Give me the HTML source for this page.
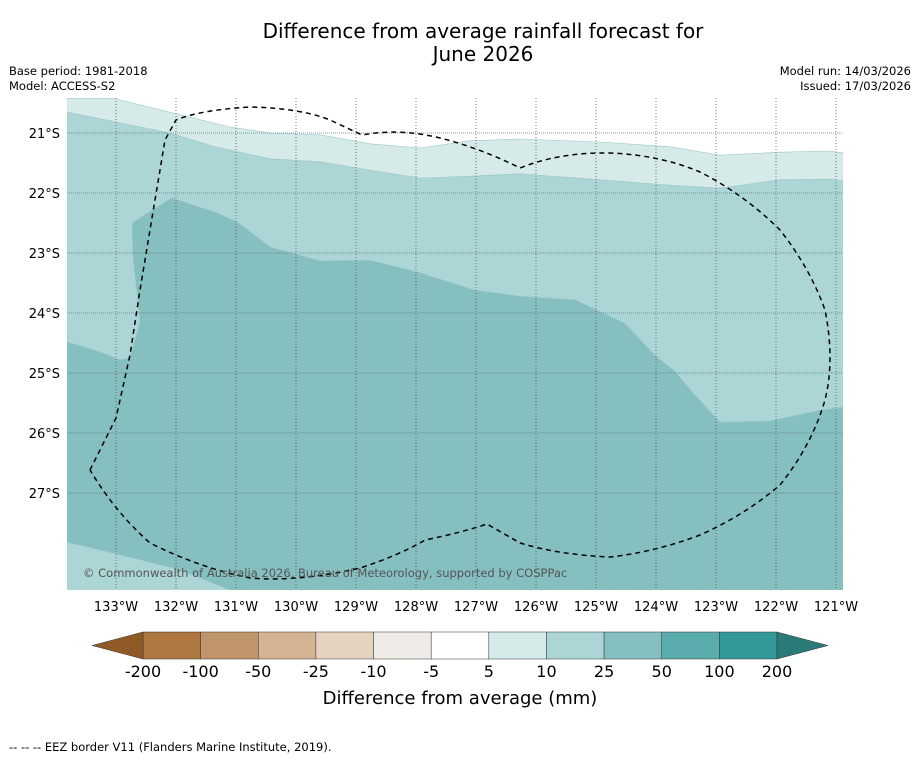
<!DOCTYPE html>
<html><head><meta charset="utf-8"><style>
body{margin:0;background:#fff;font-family:"Liberation Sans","DejaVu Sans",sans-serif;}
svg text{font-family:"DejaVu Sans","Liberation Sans",sans-serif;}
</style></head><body>
<svg id="chart" width="919" height="758" viewBox="0 0 919 758" xmlns="http://www.w3.org/2000/svg">
<text x="483" y="38" font-size="20" text-anchor="middle">Difference from average rainfall forecast for</text>
<text x="483" y="61" font-size="20" text-anchor="middle">June 2026</text>
<text x="9" y="75" font-size="11.5">Base period: 1981-2018</text>
<text x="9" y="90" font-size="11.5">Model: ACCESS-S2</text>
<text x="911" y="75" font-size="11.5" text-anchor="end">Model run: 14/03/2026</text>
<text x="911" y="90" font-size="11.5" text-anchor="end">Issued: 17/03/2026</text>
<defs><clipPath id="mapclip"><rect x="67" y="98" width="776" height="492"/></clipPath></defs>
<g id="map" clip-path="url(#mapclip)">
<rect x="67" y="98" width="776" height="492" fill="#ffffff"/>
</g>
<g id="axes"></g>
<g id="cbar"></g>
<text x="460" y="704" font-size="18" text-anchor="middle">Difference from average (mm)</text>
<text x="9" y="751" font-size="11.5">--  --  -- EEZ border V11 (Flanders Marine Institute, 2019).</text>
</svg>
<script>
const lonTicks=[133,132,131,130,129,128,127,126,125,124,123,122,121];
const latTicks=[21,22,23,24,25,26,27];
const cbLevels=["-200","-100","-50","-25","-10","-5","5","10","25","50","100","200"];
const cbColors=["#ad773f","#c1956b","#d4b393","#e6d2c0","#efebe6","#ffffff","#d5eae9","#acd5d5","#85bfbf","#5aabab","#339898"];
// contour bands: [lonW, latS]
const bandLightest=[[133.82,20.42],[133.05,20.42],[131.1,20.9],[130.43,21.0],[129.6,21.03],[128.77,21.18],[127.93,21.25],[127.1,21.13],[126.27,21.1],[124.93,21.15],[123.77,21.23],[122.93,21.37],[121.93,21.32],[121.1,21.3],[120.88,21.33],[120.88,28.7],[133.82,28.7]];
const bandLight=[[133.82,20.65],[132.1,21.0],[131.35,21.23],[130.43,21.43],[129.6,21.48],[128.77,21.62],[127.93,21.75],[127.1,21.72],[126.27,21.68],[124.93,21.78],[123.77,21.87],[122.93,21.92],[121.93,21.78],[121.1,21.77],[120.88,21.8],[120.88,28.7],[133.82,28.7]];
const bandMedium=[[132.73,22.5],[132.07,22.08],[131.35,22.32],[130.98,22.48],[130.43,22.9],[129.6,23.13],[128.77,23.12],[127.93,23.33],[127.02,23.62],[126.27,23.72],[125.35,23.78],[124.52,24.17],[124.02,24.7],[123.68,24.98],[123.35,25.37],[122.93,25.82],[122.1,25.8],[121.27,25.62],[120.88,25.57],[120.88,28.7],[131.1,28.62],[131.93,28.28],[132.93,28.03],[133.82,27.82],[133.82,24.48],[133.32,24.63],[132.93,24.78],[132.77,24.75],[132.6,24.15],[132.72,23.03]];
const X=lon=>116+(133-lon)*60;
const Y=lat=>133+(lat-21)*60;
const NS="http://www.w3.org/2000/svg";
const map=document.getElementById('map');
function poly(pts,fill){const p=document.createElementNS(NS,'polygon');
p.setAttribute('points',pts.map(d=>X(d[0])+','+Y(d[1])).join(' '));
p.setAttribute('fill',fill);p.setAttribute('stroke','#9cc7c6');p.setAttribute('stroke-width','0.6');

map.appendChild(p);}
poly(bandLightest,"#d5eae9");

poly(bandLight,"#acd5d5");

poly(bandMedium,"#85bfbf");

lonTicks.forEach(l=>{const ln=document.createElementNS(NS,'line');
ln.setAttribute('x1',X(l));ln.setAttribute('x2',X(l));ln.setAttribute('y1',98);ln.setAttribute('y2',590);
ln.setAttribute('stroke','#555');ln.setAttribute('stroke-width','0.8');ln.setAttribute('stroke-dasharray','1,2');


map.appendChild(ln);});
latTicks.forEach(l=>{const ln=document.createElementNS(NS,'line');
ln.setAttribute('x1',67);ln.setAttribute('x2',843);ln.setAttribute('y1',Y(l));ln.setAttribute('y2',Y(l));
ln.setAttribute('stroke','#5a7f7f');ln.setAttribute('stroke-width','0.8');ln.setAttribute('stroke-dasharray','1,1');


map.appendChild(ln);});
const eez=document.createElementNS(NS,'path');
eez.setAttribute('d','M90,470 L116,418 L130,355 L140,290 L150,230 L165,140 L176,120 Q200,110 250,107 Q300,108 330,120 L362,135 Q400,128 440,138 Q480,148 520,168 Q560,152 610,153 Q660,155 700,172 Q745,195 780,230 Q810,268 825,310 Q835,360 825,400 Q812,445 780,485 Q745,515 700,535 Q655,552 610,557 Q560,555 520,543 L487,524 Q460,533 425,540 Q400,555 360,568 Q300,582 250,578 Q200,568 150,543 Q115,512 90,470');
eez.setAttribute('fill','none');eez.setAttribute('stroke','#000');eez.setAttribute('stroke-width','1.5');eez.setAttribute('stroke-dasharray','5,4');


map.appendChild(eez);
const cp=document.createElementNS(NS,'text');
cp.setAttribute('x',83);cp.setAttribute('y',577);cp.setAttribute('font-size','11.5');cp.setAttribute('fill','#555');
cp.textContent='© Commonwealth of Australia 2026, Bureau of Meteorology, supported by COSPPac';


map.appendChild(cp);
const axes=document.getElementById('axes');
lonTicks.forEach(l=>{const t=document.createElementNS(NS,'text');
t.setAttribute('x',X(l));t.setAttribute('y',611);t.setAttribute('font-size','13');t.setAttribute('text-anchor','middle');
t.textContent=l+'°W';


axes.appendChild(t);});
latTicks.forEach(l=>{const t=document.createElementNS(NS,'text');
t.setAttribute('x',60);t.setAttribute('y',Y(l)+5);t.setAttribute('font-size','13');t.setAttribute('text-anchor','end');
t.textContent=l+'°S';


axes.appendChild(t);});
const cb=document.getElementById('cbar');
const cx0=143,cx1=777,cy=632,ch=27,sw=(cx1-cx0)/cbColors.length;
cbColors.forEach((c,i)=>{const r=document.createElementNS(NS,'rect');
r.setAttribute('x',cx0+i*sw);r.setAttribute('y',cy);r.setAttribute('width',sw);r.setAttribute('height',ch);
r.setAttribute('fill',c);r.setAttribute('stroke','#333');r.setAttribute('stroke-width','0.5');


cb.appendChild(r);});
const la=document.createElementNS(NS,'polygon');
la.setAttribute('points',`92,${cy+ch/2} ${cx0},${cy} ${cx0},${cy+ch}`);la.setAttribute('fill','#8f5a26');la.setAttribute('stroke','#333');la.setAttribute('stroke-width','0.5');


cb.appendChild(la);
const ra=document.createElementNS(NS,'polygon');
ra.setAttribute('points',`828,${cy+ch/2} ${cx1},${cy} ${cx1},${cy+ch}`);ra.setAttribute('fill','#2a7a78');ra.setAttribute('stroke','#333');ra.setAttribute('stroke-width','0.5');


cb.appendChild(ra);
cbLevels.forEach((v,i)=>{const t=document.createElementNS(NS,'text');
t.setAttribute('x',cx0+i*sw);t.setAttribute('y',677);t.setAttribute('font-size','16');t.setAttribute('text-anchor','middle');
t.textContent=v;


cb.appendChild(t);});
</script>
</body></html>
